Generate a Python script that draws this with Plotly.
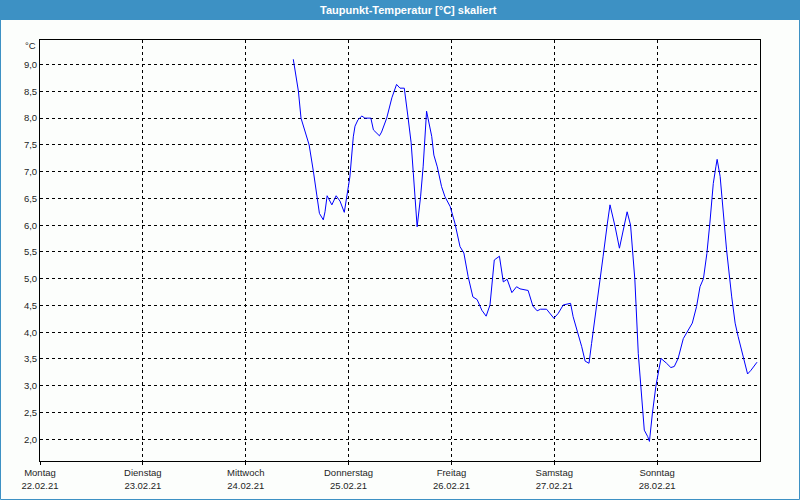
import pandas as pd
import plotly.graph_objects as go

# hours since 22.02.21 00:00
hours = [59.1, 60.3, 60.9, 61.8, 62.8, 63.8, 64.6, 65.2, 66.1, 66.5, 67.0, 68.1, 69.1, 70.0,
         71.0, 71.8, 72.3, 73.1, 73.5, 74.2, 75.1, 75.8, 77.2, 77.8, 79.2, 79.7, 80.9, 82.1,
         83.2, 84.0, 85.0, 85.9, 86.6, 87.1, 87.5, 88.0, 88.8, 89.4, 90.2, 90.6, 91.4, 91.9,
         92.7, 93.7, 94.5, 95.7, 96.8, 98.0, 98.9, 99.9, 101.0, 102.0, 103.1, 104.1, 105.0,
         106.0, 107.2, 108.1, 109.0, 110.1, 111.2, 112.0, 113.2, 113.9, 115.0, 116.0, 116.8,
         118.2, 119.9, 120.9, 122.1, 123.8, 124.4, 125.6, 126.4, 127.2, 128.1, 128.7, 129.9,
         130.7, 131.4, 132.4, 133.0, 134.2, 135.2, 136.1, 137.0, 137.8, 138.8, 139.6, 140.4,
         141.0, 141.8, 142.2, 142.9, 143.7, 144.4, 144.9, 146.2, 147.2, 148.0, 148.9, 150.1,
         151.3, 152.2, 153.2, 154.0, 154.8, 155.6, 156.3, 157.1, 157.7, 158.0, 158.7, 159.4,
         160.2, 161.4, 162.2, 162.9, 163.9, 164.5, 165.1, 165.9, 167.0, 167.3]
dewpoint = [9.10, 8.50, 8.00, 7.75, 7.50, 7.00, 6.50, 6.22, 6.10, 6.25, 6.55, 6.38, 6.55, 6.45,
            6.24, 6.60, 6.90, 7.65, 7.85, 7.97, 8.04, 8.00, 8.00, 7.78, 7.67, 7.74, 8.00, 8.38,
            8.63, 8.56, 8.56, 8.00, 7.54, 6.98, 6.50, 5.97, 6.53, 7.09, 8.13, 7.97, 7.66, 7.31,
            7.09, 6.72, 6.53, 6.35, 6.04, 5.60, 5.48, 5.04, 4.66, 4.61, 4.41, 4.30, 4.51,
            5.35, 5.42, 4.94, 4.99, 4.74, 4.85, 4.81, 4.79, 4.78, 4.49, 4.40, 4.43,
            4.43, 4.26, 4.35, 4.51, 4.54, 4.29, 3.98, 3.73, 3.46, 3.42, 3.79, 4.48,
            4.98, 5.42, 6.04, 6.38, 5.97, 5.57, 5.91, 6.25, 6.00, 4.98, 3.60, 2.75,
            2.17, 2.05, 1.96, 2.49, 2.99, 3.30, 3.51, 3.42, 3.34, 3.36, 3.51, 3.88,
            4.04, 4.17, 4.48, 4.85, 5.00, 5.47, 6.04, 6.78, 7.09, 7.23, 6.91, 6.28,
            5.54, 4.66, 4.17, 3.92, 3.61, 3.42, 3.22, 3.29, 3.42, 3.44]

day_dates = ["2021-02-22", "2021-02-23", "2021-02-24", "2021-02-25",
             "2021-02-26", "2021-02-27", "2021-02-28"]
day_names = ["Montag", "Dienstag", "Mittwoch", "Donnerstag", "Freitag", "Samstag", "Sonntag"]
day_labels = ["22.02.21", "23.02.21", "24.02.21", "25.02.21", "26.02.21", "27.02.21", "28.02.21"]
y_ticks = [2.0, 2.5, 3.0, 3.5, 4.0, 4.5, 5.0, 5.5, 6.0, 6.5, 7.0, 7.5, 8.0, 8.5, 9.0]

start = pd.Timestamp("2021-02-22 00:00")
times = [start + pd.Timedelta(hours=h) for h in hours]

bg = "#fcfefc"
bar = "#3d91c4"
font = "Liberation Sans"

fig = go.Figure()
fig.add_trace(go.Scatter(x=times, y=dewpoint, mode="lines",
                         line=dict(color="#0000ff", width=1), hoverinfo="skip"))

W, H = 800, 500
L, R, T, B = 40, 40, 40, 39
pw, ph = W - L - R, H - T - B

def px_x(p):
    return (p - L) / pw

def px_y(p):
    return 1 - (p - T) / ph

fig.update_layout(
    width=W, height=H,
    margin=dict(l=L, r=R, t=T, b=B),
    paper_bgcolor=bg, plot_bgcolor=bg,
    separators=",.",
    showlegend=False,
    font=dict(family=font, size=9.5, color="#1e1e1e"),
    xaxis=dict(
        type="date",
        range=["2021-02-22 00:00", "2021-03-01 00:00"],
        tickvals=day_dates,
        ticktext=[f"{n}<br>{d}" for n, d in zip(day_names, day_labels)],
        showgrid=True, gridcolor="#000000", gridwidth=1, griddash="3px,3px",
        showline=True, linecolor="#000000", linewidth=1, mirror=True,
        ticks="outside", ticklen=3, tickcolor="#000000",
        zeroline=False, automargin=False,
    ),
    yaxis=dict(
        range=[1.594, 9.46],
        tickvals=y_ticks,
        tickformat=".1f",
        showgrid=True, gridcolor="#000000", gridwidth=1, griddash="3px,3px",
        showline=True, linecolor="#000000", linewidth=1, mirror=True,
        ticks="", zeroline=False, automargin=False,
    ),
    shapes=[
        dict(type="rect", xref="paper", yref="paper", layer="below",
             x0=px_x(0), x1=px_x(W), y0=px_y(20), y1=px_y(0),
             fillcolor=bar, line=dict(width=0)),
        dict(type="rect", xref="paper", yref="paper", layer="above",
             x0=px_x(0.5), x1=px_x(W - 0.5), y0=px_y(H - 0.5), y1=px_y(0.5),
             fillcolor="rgba(0,0,0,0)", line=dict(color=bar, width=1)),
    ],
    annotations=[
        dict(text="Taupunkt-Temperatur [°C] skaliert", xref="paper", yref="paper",
             x=px_x(408), y=px_y(10), xanchor="center", yanchor="middle",
             showarrow=False, font=dict(family=font, size=11, color="#ffffff", weight="bold")),
        dict(text="°C", xref="paper", yref="paper", x=px_x(38), y=px_y(45),
             xanchor="right", yanchor="middle", showarrow=False,
             font=dict(family=font, size=9.5, color="#1e1e1e")),
    ],
)

fig.write_html("out.html", config={"displayModeBar": False},
               post_script="document.body.style.margin='0';document.body.style.overflow='hidden';")
